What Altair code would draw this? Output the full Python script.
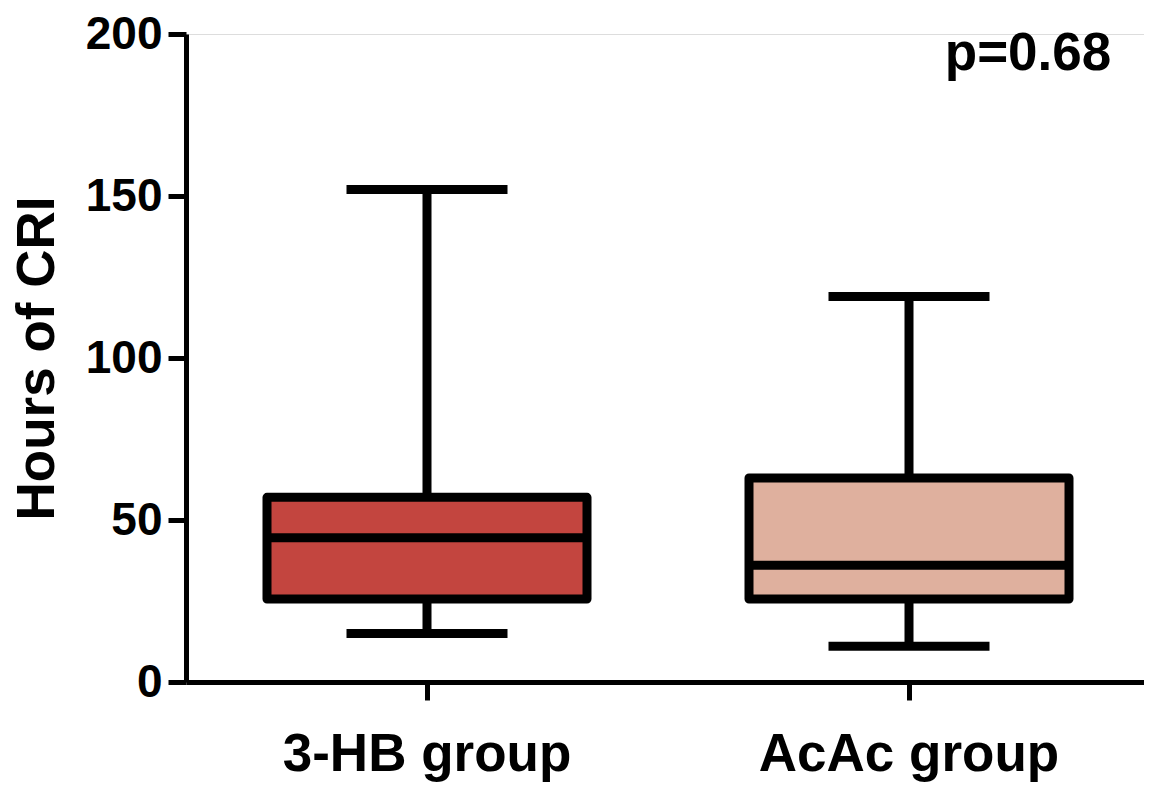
import altair as alt
import pandas as pd

groups = ["3-HB group", "AcAc group"]
mins = [15, 11]
q1s = [25.6, 25.6]
medians = [44.5, 36]
q3s = [57, 63]
maxs = [152, 119]
fills = ["#C3453F", "#DFB09E"]

df = pd.DataFrame({"group": groups, "lo": mins, "q1": q1s, "med": medians,
                   "q3": q3s, "hi": maxs})

ann = pd.DataFrame({"group": ["AcAc group"], "y": [189], "label": ["p=0.68"]})

FONT = "Liberation Sans"

x = alt.X("group:N", sort=groups,
          scale=alt.Scale(paddingInner=0, paddingOuter=0, range=[0, 964]),
          axis=alt.Axis(title=None, labelAngle=0, labelFontSize=53, labelFont=FONT,
                        labelFontWeight="bold", labelColor="black", labelPadding=28,
                        labelLimit=0,
                        domainColor="black", domainWidth=5, tickColor="black",
                        tickWidth=5, tickSize=18, grid=False))

yscale = alt.Scale(domain=[0, 200], nice=False)
yaxis = alt.Axis(title="Hours of CRI", titleFontSize=53, titleFont=FONT,
                 titleFontWeight="bold", titleColor="black", titlePadding=21,
                 values=[0, 50, 100, 150, 200], labelFontSize=46, labelFont=FONT,
                 labelFontWeight="bold", labelColor="black", labelPadding=6,
                 domainColor="black", domainWidth=5, tickColor="black",
                 tickWidth=5, tickSize=18, grid=False)

base = alt.Chart(df)

whisker = base.mark_rule(color="black", strokeWidth=9).encode(
    x=x, y=alt.Y("lo:Q", scale=yscale, axis=yaxis), y2="hi:Q")

caps_lo = base.mark_tick(color="black", size=161, thickness=9, opacity=1).encode(
    x=x, y=alt.Y("lo:Q", scale=yscale))
caps_hi = base.mark_tick(color="black", size=161, thickness=9, opacity=1).encode(
    x=x, y=alt.Y("hi:Q", scale=yscale))

box = base.mark_bar(size=320, stroke="black", strokeWidth=9, strokeJoin="round",
                    opacity=1).encode(
    x=x, y=alt.Y("q1:Q", scale=yscale), y2="q3:Q",
    color=alt.Color("group:N", scale=alt.Scale(domain=groups, range=fills), legend=None))

median = base.mark_tick(color="black", size=316, thickness=9, opacity=1).encode(
    x=x, y=alt.Y("med:Q", scale=yscale))

text = alt.Chart(ann).mark_text(font=FONT, fontSize=53, fontWeight="bold",
                                color="black", dx=119, baseline="alphabetic",
                                align="center").encode(
    x=alt.X("group:N", sort=groups), y=alt.Y("y:Q", scale=yscale), text="label:N")

chart = alt.layer(whisker, caps_lo, caps_hi, box, median, text).properties(
    width=958, height=648,
    autosize=alt.AutoSizeParams(type="none"),
    padding={"left": 178, "top": 26, "right": 0, "bottom": 102},
).configure_view(stroke=None).configure(background="white")

chart.save("out.html", embed_options={"renderer": "svg", "actions": False})
